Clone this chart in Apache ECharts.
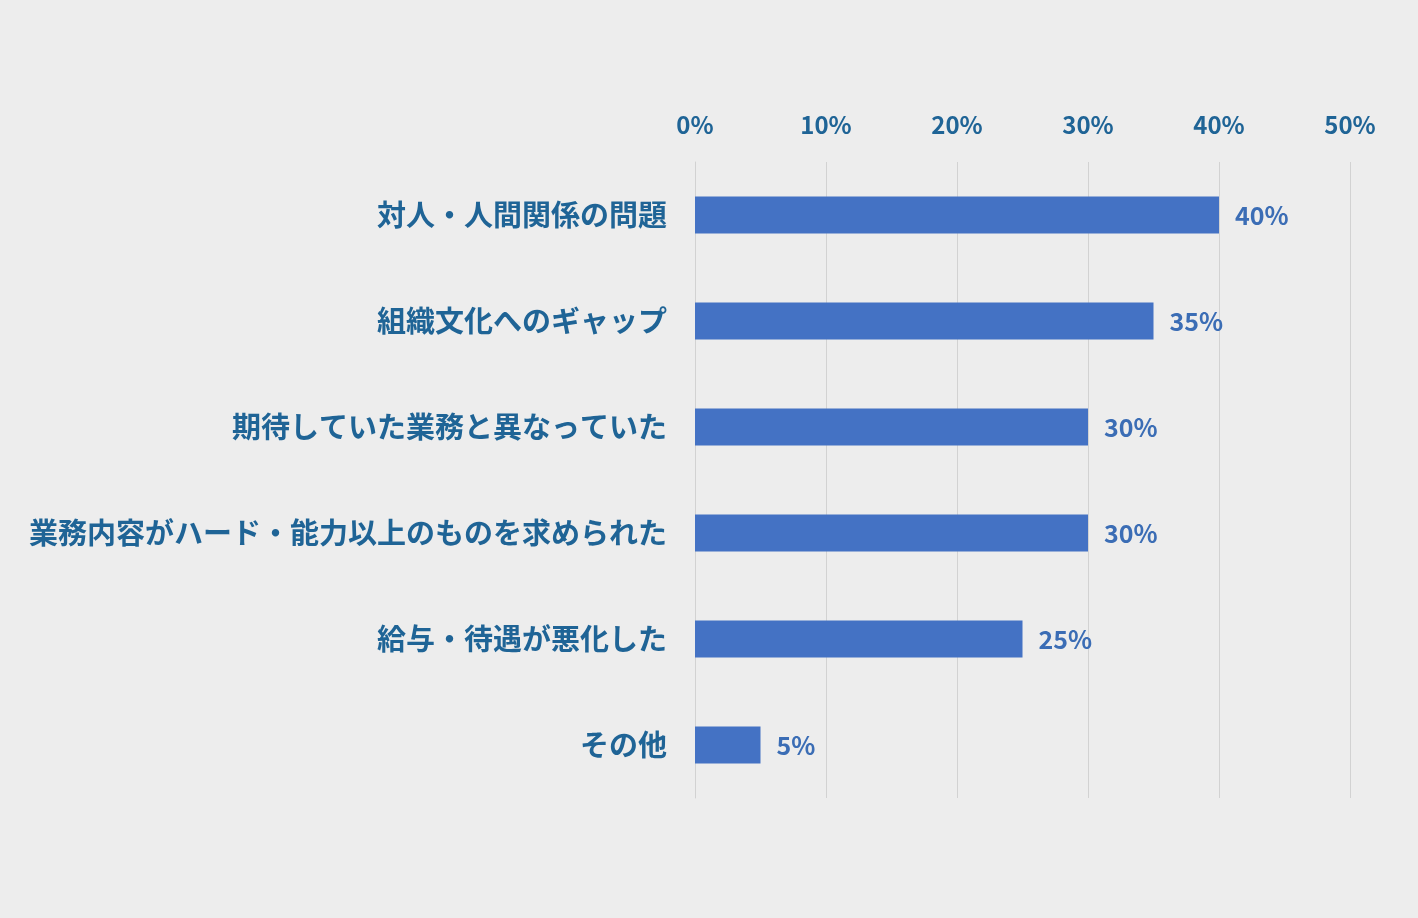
<!DOCTYPE html>
<html><head><meta charset="utf-8">
<script src="https://cdn.jsdelivr.net/npm/echarts@6/dist/echarts.min.js"></script>
<style>html,body{margin:0;padding:0;background:#ececec;}#c{width:1418px;height:918px;}</style>
</head><body><div id="c"></div>
<script>
const categories = ['対人・人間関係の問題','組織文化へのギャップ','期待していた業務と異なっていた','業務内容がハード・能力以上のものを求められた','給与・待遇が悪化した','その他'];
const values = [40,35,30,30,25,5];
const xTicks = [0,10,20,30,40,50];

const chart = echarts.init(document.getElementById('c'));
const font = '"Noto Sans CJK JP", "Noto Sans", sans-serif';
chart.setOption({
  backgroundColor: '#ededed',
  grid: {left: 695, right: 68, top: 162, bottom: 120, containLabel: false},
  xAxis: {
    type: 'value', position: 'top', min: xTicks[0], max: xTicks[xTicks.length-1], interval: 10,
    axisLine: {show: false}, axisTick: {show: false},
    splitLine: {show: true, lineStyle: {color: '#d2d2d2', width: 1}},
    axisLabel: {formatter: '{value}%', color: '#1f6496', fontSize: 24, fontWeight: 'bold', fontFamily: font, margin: 25}
  },
  yAxis: {
    type: 'category', data: categories, inverse: true,
    axisLine: {show: true, lineStyle: {color: '#d2d2d2'}}, axisTick: {show: false},
    axisLabel: {color: '#1f6496', fontSize: 29, fontWeight: 'bold', fontFamily: font, margin: 28}
  },
  series: [{
    type: 'bar', data: values, barWidth: 37,
    itemStyle: {color: '#4472c4'},
    label: {show: true, position: 'right', formatter: '{c}%', color: '#3b6db5', fontSize: 25, fontWeight: 'bold', fontFamily: font, distance: 16},
    silent: true, animation: false
  }]
});
</script></body></html>
